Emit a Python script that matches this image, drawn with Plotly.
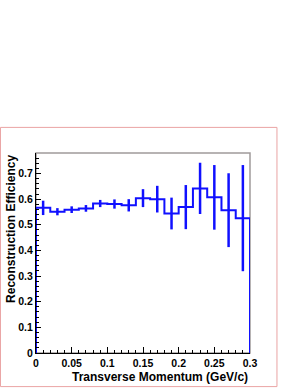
import plotly.graph_objects as go

# Data
bin_edges = [0.00, 0.02, 0.04, 0.06, 0.08, 0.10, 0.12, 0.14, 0.16, 0.18,
             0.20, 0.22, 0.24, 0.26, 0.28, 0.30]
efficiency = [0.566, 0.551, 0.559, 0.564, 0.583, 0.581, 0.576, 0.604, 0.600,
              0.544, 0.569, 0.642, 0.607, 0.557, 0.526]
errors = [0.028, 0.014, 0.013, 0.013, 0.014, 0.018, 0.024, 0.035, 0.052,
          0.062, 0.086, 0.100, 0.126, 0.144, 0.207]
x_title = "Transverse Momentum (GeV/c)"
y_title = "Reconstruction Efficiency"

centers = [(bin_edges[i] + bin_edges[i + 1]) / 2 for i in range(len(efficiency))]

# Step outline (ROOT style, from zero at both ends)
step_x = [bin_edges[0], bin_edges[0]] + bin_edges[1:-1] + [bin_edges[-1], bin_edges[-1]]
step_y = [0, efficiency[0]] + efficiency[1:] + [efficiency[-1], 0]

BLUE = "#1010ff"
FONT = "Liberation Sans"

fig = go.Figure()
fig.add_trace(go.Scatter(
    x=step_x, y=step_y, mode="lines", line=dict(color=BLUE, width=2, shape="hv"),
    hoverinfo="skip", showlegend=False))
fig.add_trace(go.Scatter(
    x=centers, y=efficiency, mode="markers", marker=dict(size=0.1, color=BLUE),
    error_y=dict(type="data", array=errors, visible=True, color=BLUE,
                 thickness=2.5, width=0),
    showlegend=False))

fig.update_layout(
    width=300, height=388,
    margin=dict(l=36, r=50, t=153, b=35),
    paper_bgcolor="white", plot_bgcolor="white",
    font=dict(family=FONT, color="black"),
    xaxis=dict(range=[0, 0.3], showgrid=False, zeroline=False,
               showline=True, linecolor="black", linewidth=1,
               ticks="inside", ticklen=6, tickcolor="black", dtick=0.05, tick0=0,
               tickfont=dict(size=10.5, family=FONT, weight="bold"),
               tickformat="~g",
               minor=dict(ticks="inside", ticklen=3, dtick=0.01, tickcolor="black", showgrid=False)),
    yaxis=dict(range=[0, 0.78], showgrid=False, zeroline=False,
               showline=True, linecolor="black", linewidth=1,
               ticks="inside", ticklen=5, tickcolor="black", dtick=0.1, tick0=0,
               tickfont=dict(size=10.5, family=FONT, weight="bold"),
               tickformat="~g",
               minor=dict(ticks="inside", ticklen=3, dtick=0.02, tickcolor="black", showgrid=False)),
    shapes=[
        dict(type="rect", xref="paper", yref="paper", x0=0, x1=1, y0=0, y1=1,
             line=dict(color="#a09a9a", width=1.5), layer="below"),
        dict(type="rect", xref="paper", yref="paper",
             x0=-0.166, x1=1.126, y0=-0.168, y1=1.128,
             line=dict(color="#eaa4a4", width=1)),
    ],
    annotations=[
        dict(text=x_title, xref="paper", yref="paper", x=1, y=-0.075,
             xanchor="right", yanchor="top", showarrow=False,
             font=dict(size=12, family=FONT, weight="bold")),
        dict(text=y_title, xref="paper", yref="paper", x=-0.075, y=1.0,
             xanchor="right", yanchor="top", textangle=-90, showarrow=False,
             font=dict(size=12, family=FONT, weight="bold")),
    ],
)

fig.write_html("out.html", config={"displayModeBar": False},
               post_script="document.body.style.margin='0';document.body.style.overflow='hidden';")
